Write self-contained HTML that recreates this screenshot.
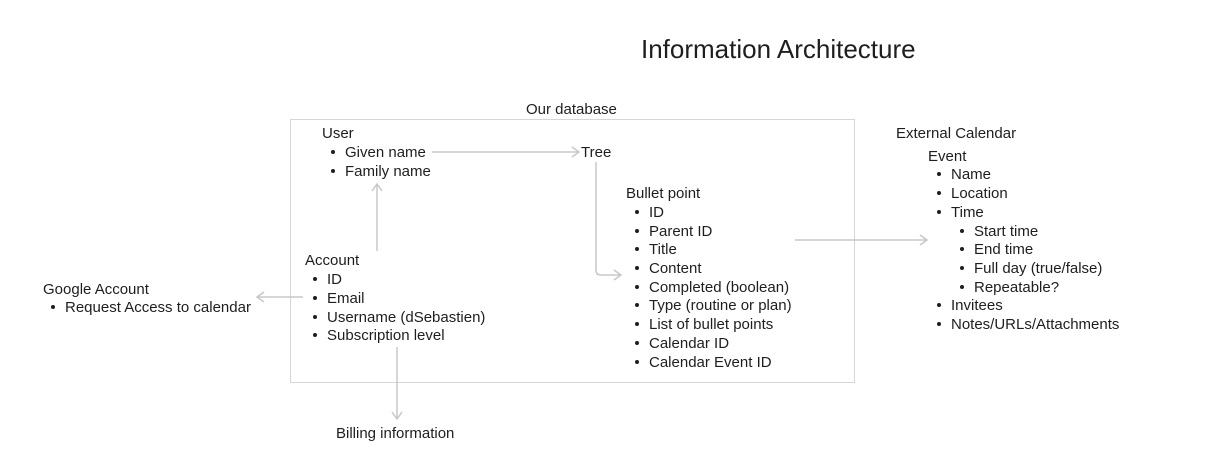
<!DOCTYPE html>
<html><head><meta charset="utf-8"><style>
body{margin:0;width:1223px;height:472px;background:#fff;position:relative;overflow:hidden;font-family:"Liberation Sans",sans-serif;color:#1e1e1e}
.t{position:absolute;font-size:15px;line-height:18px;white-space:nowrap}
.b{position:absolute;width:4px;height:4px;border-radius:50%;background:#1e1e1e}
</style></head><body>
<div class="t" style="left:641px;top:34px;font-size:26px;line-height:30px">Information Architecture</div>
<div style="position:absolute;left:290px;top:119px;width:563px;height:262px;border:1px solid #d6d6d6"></div>
<svg width="1223" height="472" style="position:absolute;left:0;top:0" fill="none" stroke="#c8c8c8" stroke-width="1.5">
<path d="M432 152H579M572 147l7 5-7 5"/>
<path d="M596 162V270q0 5 5 5H621M614 270l7 5-7 5"/>
<path d="M377 251V184M372 191l5-7 5 7"/>
<path d="M303 297H257M264 292l-7 5 7 5"/>
<path d="M397 347V419M392 412l5 7 5-7"/>
<path d="M795 240H927M920 235l7 5-7 5"/>
</svg>
<div id="c"></div>
<script>
var L=[
["Our database",526,109],
["User",322,133],["•Given name",345,152],["•Family name",345,171],["Tree",581,152],
["Account",305,260],["•ID",327,279],["•Email",327,298],["•Username (dSebastien)",327,317],["•Subscription level",327,335],
["Billing information",336,433],
["Google Account",43,289],["•Request Access to calendar",65,307],
["Bullet point",626,193],["•ID",649,212],["•Parent ID",649,231],["•Title",649,249],["•Content",649,268],["•Completed (boolean)",649,287],["•Type (routine or plan)",649,305],["•List of bullet points",649,324],["•Calendar ID",649,343],["•Calendar Event ID",649,362],
["External Calendar",896,133],["Event",928,156],["•Name",951,174],["•Location",951,193],["•Time",951,212],["•Start time",974,231],["•End time",974,249],["•Full day (true/false)",974,268],["•Repeatable?",974,287],["•Invitees",951,305],["•Notes/URLs/Attachments",951,324]];
var h="";
L.forEach(function(a){var s=a[0],x=a[1],y=a[2];
if(s[0]=="•"){s=s.slice(1);h+='<div class="b" style="left:'+(x-14)+'px;top:'+(y-2)+'px"></div>';}
h+='<div class="t" style="left:'+x+'px;top:'+(y-8)+'px">'+s+'</div>';});
document.getElementById("c").innerHTML=h;
</script>
</body></html>
